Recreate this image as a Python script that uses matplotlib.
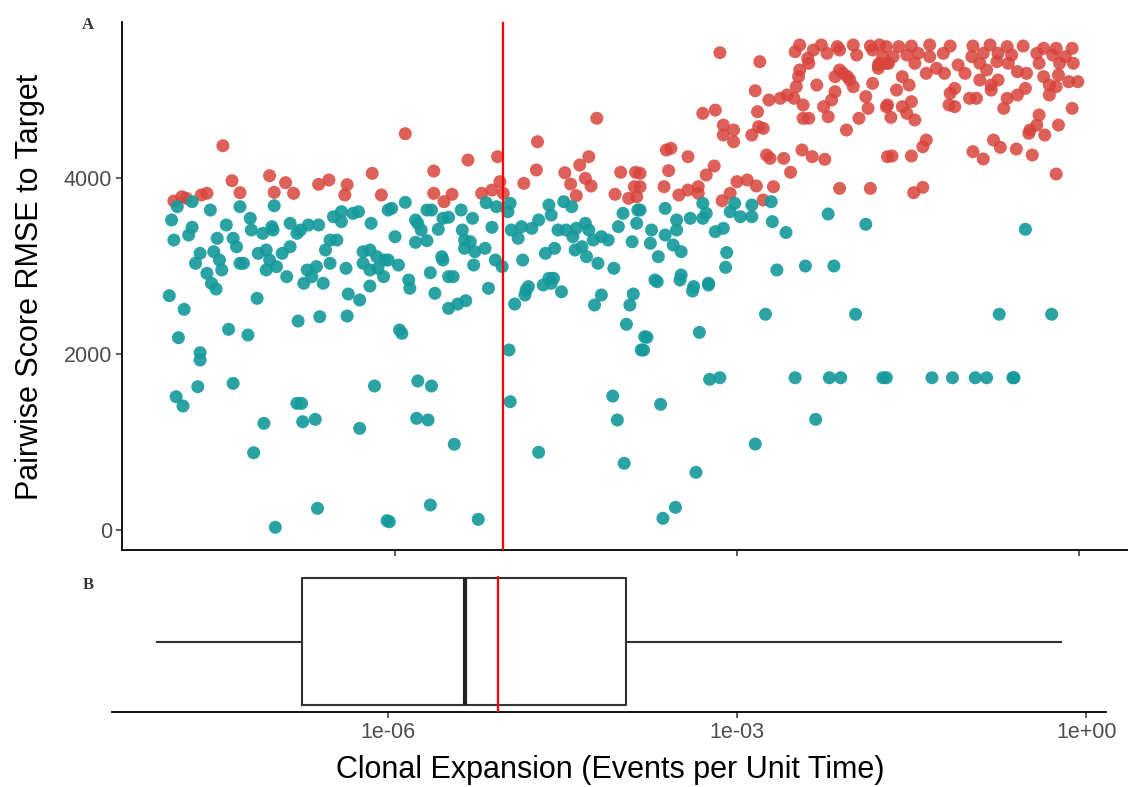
import matplotlib
matplotlib.use("Agg")
import matplotlib.pyplot as plt

# ---- data (log10 of clonal expansion rate, RMSE) ----
red_log10x = [
    -7.51, -7.43, -7.36, -7.10, -7.06, -6.96, -6.89, -6.67, -6.58, -6.42, -6.44, -6.20, -6.12,
    -7.94, -7.87, -7.83, -7.70, -7.65,
    -5.91, -5.66, -5.36, -5.10, -5.08, -5.05, -5.15, -5.24, -5.66, -5.57, -5.50, -4.87, -4.75,
    -4.76, -4.51, -4.46, -4.41, -4.38, -4.30, -4.33, -4.28, -4.23, -4.07, -4.02, -3.89, -3.90,
    -3.95, -3.88,
    -3.15, -2.80, -2.84, -3.30, -3.19, -3.12, -3.03, -3.12, -3.03, -2.87, -2.81, -2.77, -2.82,
    -2.72, -2.62, -2.56, -2.50, -2.42, -2.42, -2.37, -2.46, -2.48, -2.45, -2.37, -2.33, -2.49,
    -2.30, -2.24, -2.20, -2.17, -2.14, -2.14, -2.21, -2.10, -2.10, -2.04, -2.03, -1.98, -1.95,
    -1.93, -1.87, -1.85, -1.81, -1.81, -1.75, -1.69, -1.68, -3.62, -3.58, -3.43, -3.60, -3.64,
    -3.85, -3.85, -3.51, -3.43, -3.34, -3.34, -3.27, -3.20, -3.13, -3.06, -3.00, -2.91, -2.83,
    -2.77, -2.68, -2.74, -2.71, -2.59, -2.53, -2.43, -2.34, -2.23, -2.10, -1.83,
    -2.45, -2.26, -2.12, -1.98, -1.83, -1.75, -1.69, -1.76, -2.07, -2.01, -2.38,
    -1.69, -1.58, -1.47, -1.31, -1.13, -0.93, -0.78, -0.63, -0.49, -0.31, -0.20, -0.06,
    -1.72, -1.63, -1.51, -1.41, -1.31, -1.19, -0.94, -0.84, -0.71, -0.59, -0.37, -0.23, -0.12,
    -1.76, -1.67, -1.44, -1.34, -1.25, -1.18, -1.06, -1.00, -0.87, -0.81, -0.72, -0.62, -0.54,
    -0.46, -0.35, -0.17, -0.05,
    -1.55, -1.49, -1.60, -0.87, -0.77, -0.71, -0.31, -0.26, -0.20, -0.09, -0.01, -0.18, -1.09,
    -0.77,
    -1.13, -0.96, -0.90, -1.14, -1.09, -1.68, -1.65, -1.55, -1.47, -1.51, -1.44, -0.63, -0.54,
    -0.47, -0.66, -0.26, -0.35, -0.06, -0.18, -0.43, -0.37, -0.30, -0.44, -1.34, -1.37, -0.75,
    -0.69, -0.55, -0.93, -0.84, -0.41, -1.64, -1.47, -0.20, -1.37, -1.45,
]
red_rmse = [
    4366, 3968, 3832, 4025, 3836, 3945, 3825, 3927, 3976, 3923, 3806, 4052, 3806,
    3737, 3786, 3768, 3806, 3825,
    4502, 4078, 4203, 4241, 3957, 3825, 3862, 3825, 3825, 3730, 3814, 3938, 4411,
    4090, 4059, 3930, 3798, 4146, 4241, 3995, 3908, 4677, 3814, 4064, 4064, 3900,
    3768, 3786,
    5422, 5320, 4990, 4733, 4770, 4600, 4544, 4487, 4411, 4487, 4582, 4563, 4752,
    4885, 4904, 4942, 4904, 4828, 4677, 4677, 5150, 5036, 5226, 5302, 5453, 5434,
    5055, 4809, 4695, 4885, 4979, 5150, 5415, 5453, 5226, 4544, 5150, 5036, 5396,
    4677, 4923, 4790, 5074, 5453, 5302, 4809, 4241, 4317, 4336, 4241, 4082, 3900,
    4052, 3900, 3806, 3862, 3900, 3825, 4033, 4135, 3741, 3825, 3957, 3976, 3908,
    3749, 3900, 4260, 4222, 4222, 4064, 4317, 4241, 4211, 3881, 3881,
    5510, 5510, 5491, 5510, 5498, 5510, 5302, 5245, 5188, 5112, 5358,
    5491, 5491, 5498, 5510, 5498, 5498, 5510, 5491, 5498, 5472, 5472, 5472,
    5377, 5377, 5396, 5415, 5377, 5415, 5377, 5415, 5415, 5396, 5415, 5396, 5377,
    5283, 5302, 5302, 5188, 5245, 5188, 5283, 5188, 5302, 5226, 5321, 5302, 5207,
    5188, 5302, 5302, 5302,
    5150, 5055, 4998, 5112, 5055, 5112, 5150, 5055, 5036, 5093, 5093, 5169, 5017,
    4998,
    4961, 4904, 4904, 4828, 4809, 4828, 4688, 4809, 4866, 4733, 4658, 4904, 4942,
    5017, 4790, 4942, 4715, 4790, 4600, 4544, 4600, 4487, 4506, 4430, 4354, 4430,
    4347, 4328, 4298, 4215, 4260, 4249, 4249, 4044, 3893, 3832,
]

teal_log10x = [
    -7.91, -7.78, -7.96, -7.62, -7.36, -7.06, -7.94, -7.81, -7.78, -7.48, -7.56, -7.42, -7.39,
    -7.27, -7.26, -7.16, -7.08, -7.07, -6.92, -6.86, -6.83, -6.76, -6.67, -6.54, -6.47, -6.47,
    -6.37, -6.32, -6.21, -6.57, -6.51, -6.61, -7.71, -7.59, -7.54, -7.75, -7.65, -7.61, -7.52,
    -7.36, -7.33, -7.20, -7.13, -7.10, -6.99, -7.04, -6.92, -7.13, -6.95, -6.77, -6.73, -6.69,
    -6.80, -6.63, -6.57, -6.43, -6.28, -6.22, -6.16, -6.28, -6.22, -6.15, -6.10, -6.06, -6.09,
    -7.98, -7.85, -7.90, -7.46, -7.29, -7.71, -7.71, -7.73, -7.42, -7.92, -7.86, -7.21, -7.57,
    -6.85, -6.66, -6.42, -6.41, -6.31, -6.22, -6.86, -6.82, -6.81, -6.70, -7.15, -7.24, -6.18,
    -6.31, -6.68, -7.05, -6.07,
    -6.03, -5.91, -6.00, -6.06, -5.97, -5.88, -5.82, -5.80, -5.77, -5.72, -5.68, -5.82, -5.72,
    -5.62, -5.58, -5.53, -5.42, -5.32, -5.41, -5.39, -5.34, -5.39, -5.30, -5.21, -5.59, -5.58,
    -5.31, -5.69, -5.53, -5.49, -5.15, -5.20, -5.11, -4.99, -5.01, -5.12, -5.06, -4.98, -4.92,
    -4.89, -4.88, -4.80, -4.74, -4.65, -4.63, -4.57, -4.52, -4.45, -4.50, -4.44, -4.41, -4.33,
    -4.30, -4.36, -4.26, -4.19, -4.13, -4.04, -4.00, -3.92, -3.88, -3.87, -4.42, -4.32, -4.22,
    -4.08, -4.68, -4.60, -4.65, -4.61, -4.83,
    -5.87, -5.65, -5.53, -5.45, -5.38, -5.18, -5.96, -5.94, -5.80, -5.68, -5.81, -5.71, -5.48,
    -5.69, -6.05, -5.27, -5.00, -4.99, -4.95, -4.85, -4.86, -4.70, -4.63, -4.54, -4.25, -4.19,
    -3.94, -3.91, -3.97, -3.84, -3.81, -4.74, -4.09, -4.05, -3.99,
    -3.85, -3.63, -3.75, -3.76, -3.63, -3.56, -3.69, -3.49, -3.53, -3.41, -3.53, -3.30, -3.30,
    -3.27, -3.19, -3.12, -3.06, -3.02, -2.97, -2.87, -2.87, -2.70, -2.69, -2.57, -3.09, -3.10,
    -3.49, -3.72, -3.38, -3.25, -2.65, -2.40, -2.15, -2.20, -1.87,
    -3.70, -3.50, -3.39, -3.25, -2.75, -1.96, -3.33, -3.79, -3.82, -3.24, -3.15, -2.49, -2.19,
    -2.09, -1.72, -1.69, -3.67, -2.31, -2.84, -3.36, -3.54, -3.65,
    -0.47, -0.70, -0.24, -1.29, -1.11, -0.91, -0.81, -0.58, -0.57,
]
teal_rmse = [
    3673, 3730, 3522, 3635, 3673, 3684, 3294, 3351, 3439, 3465, 3314, 3314, 3218,
    3541, 3408, 3370, 3446, 3408, 3484, 3370, 3408, 3465, 3465, 3559, 3616, 3503,
    3597, 3616, 3484, 3294, 3294, 3181, 3143, 3162, 3067, 3030, 2916, 2803, 2954,
    3030, 3030, 3143, 3181, 3067, 3143, 2992, 3218, 2954, 2878, 2954, 2878, 2992,
    2803, 2803, 3030, 2973, 3162, 3181, 3105, 3030, 2954, 2973, 2878, 3635, 3067,
    2662, 2507, 2185, 2280, 2215, 2014, 1931, 1628, 1666, 1514, 1409, 2632, 2738,
    2374, 2423, 2431, 2681, 2613, 2772, 1439, 1439, 1230, 1257, 1212, 878, 1636,
    1155, 246, 31, 106,
    3654, 3722, 3332, 3067, 3010, 2840, 3522, 3484, 3408, 3635, 3635, 3268, 3287,
    3416, 3541, 3553, 3635, 3541, 3408, 3294, 3275, 3200, 3162, 3200, 3105, 3067,
    3010, 2923, 2878, 2878, 3439, 3718, 3673, 3711, 3616, 3067, 2992, 3408, 3314,
    3446, 3067, 3427, 3522, 3692, 3578, 3408, 3730, 3673, 3408, 3332, 3427, 3484,
    3408, 3218, 3294, 3332, 3294, 3446, 3597, 3275, 3484, 3635, 3181, 3105, 3030,
    2973, 3143, 3200, 2859, 2859, 2765,
    2746, 2689, 2518, 2567, 2605, 2746, 2272, 2234, 1693, 1636, 1269, 1250, 974,
    284, 94, 121, 2045, 1458, 2567, 2726, 2670, 2783, 2803, 2707, 2556, 2670,
    2556, 2681, 2337, 2045, 2196, 883, 1522, 1250, 758,
    3635, 3654, 3408, 3257, 3351, 3238, 3105, 3162, 3522, 3541, 3408, 3711, 3541,
    3597, 3389, 3427, 3616, 3711, 3559, 3692, 3559, 3730, 3503, 3380, 3152, 2984,
    2897, 2840, 2765, 2803, 2954, 2999, 2999, 3590, 3473,
    2821, 2840, 2715, 2783, 2451, 2451, 2245, 2189, 2045, 1712, 1730, 1730, 1730,
    1730, 1730, 1730, 1428, 1257, 977, 655, 258, 133,
    3416, 2451, 2451, 1730, 1730, 1730, 1730, 1730, 1730,
]

true_log10x = -5.05
box_whislo, box_q1, box_med, box_q3, box_whishi = -7.98, -6.74, -5.34, -3.95, -0.22

x_ticks = [1e-6, 1e-3, 1e0]
x_tick_labels = ["1e-06", "1e-03", "1e+00"]
y_ticks = [0, 2000, 4000]
y_tick_labels = ["0", "2000", "4000"]

RED = "#D8443C"
TEAL = "#14999B"
TXT = "#4D4D4D"

plt.rcParams['font.family'] = ['Liberation Sans', 'DejaVu Sans']

W, H = 1128, 787
fig = plt.figure(figsize=(W / 100, H / 100), dpi=100)

def rect(l, t, r, b):
    return [l / W, 1 - b / H, (r - l) / W, (b - t) / H]

# ---------- panel A ----------
axA = fig.add_axes(rect(122, 22, 1128, 550))
rx = [10 ** v for v in red_log10x]
tx = [10 ** v for v in teal_log10x]
axA.scatter(rx, red_rmse, s=88, color=RED, alpha=0.85, edgecolors="none", zorder=2)
axA.scatter(tx, teal_rmse, s=88, color=TEAL, alpha=0.9, edgecolors="none", zorder=3)
axA.axvline(10 ** true_log10x, color="#FF0000", lw=1.6, zorder=4)
axA.set_xscale("log")
axA.set_xlim(10 ** -8.395, 10 ** 0.43)
axA.set_ylim(-227, 5771)
axA.set_xticks(x_ticks)
axA.set_xticklabels([])
axA.xaxis.set_minor_locator(matplotlib.ticker.NullLocator())
axA.set_yticks(y_ticks)
axA.set_yticklabels(y_tick_labels, fontsize=15.5, color=TXT)
for s in ["top", "right"]:
    axA.spines[s].set_visible(False)
for s in ["left", "bottom"]:
    axA.spines[s].set_linewidth(1.3)
    axA.spines[s].set_color("black")
axA.tick_params(length=4, width=1.1, color="#333333", pad=3)

# ---------- panel B ----------
axB = fig.add_axes(rect(112, 576, 1106, 712))
stats = [dict(whislo=10 ** box_whislo, q1=10 ** box_q1, med=10 ** box_med,
              q3=10 ** box_q3, whishi=10 ** box_whishi, fliers=[])]
axB.bxp(stats, positions=[0.518], widths=0.934, vert=False, showcaps=False,
        showfliers=False, patch_artist=False,
        boxprops=dict(color="#333333", lw=1.5),
        whiskerprops=dict(color="#333333", lw=1.5),
        medianprops=dict(color="#222222", lw=3))
axB.axvline(10 ** true_log10x, color="#FF0000", lw=1.6, zorder=4)
axB.set_xscale("log")
axB.set_xlim(10 ** -8.37, 10 ** 0.17)
axB.set_ylim(0, 1)
axB.set_yticks([])
axB.set_xticks(x_ticks)
axB.set_xticklabels(x_tick_labels, fontsize=15.5, color=TXT)
axB.xaxis.set_minor_locator(matplotlib.ticker.NullLocator())
for s in ["top", "right", "left"]:
    axB.spines[s].set_visible(False)
axB.spines["bottom"].set_linewidth(1.3)
axB.tick_params(length=4, width=1.1, color="#333333", pad=3)

# ---------- labels ----------
fig.text(30 / W, 1 - 287 / H, "Pairwise Score RMSE to Target", rotation=90,
         ha="center", va="center", fontsize=22, color="black")
fig.text(610 / W, 1 - 770 / H, "Clonal Expansion (Events per Unit Time)",
         ha="center", va="center", fontsize=22, color="black")
fig.text(88 / W, 1 - 25 / H, "A", ha="center", va="center", fontsize=12,
         fontweight="bold", family="Liberation Serif", color="#333333")
fig.text(88 / W, 1 - 585 / H, "B", ha="center", va="center", fontsize=12,
         fontweight="bold", family="Liberation Serif", color="#333333")

fig.savefig("out.png", dpi=100)
